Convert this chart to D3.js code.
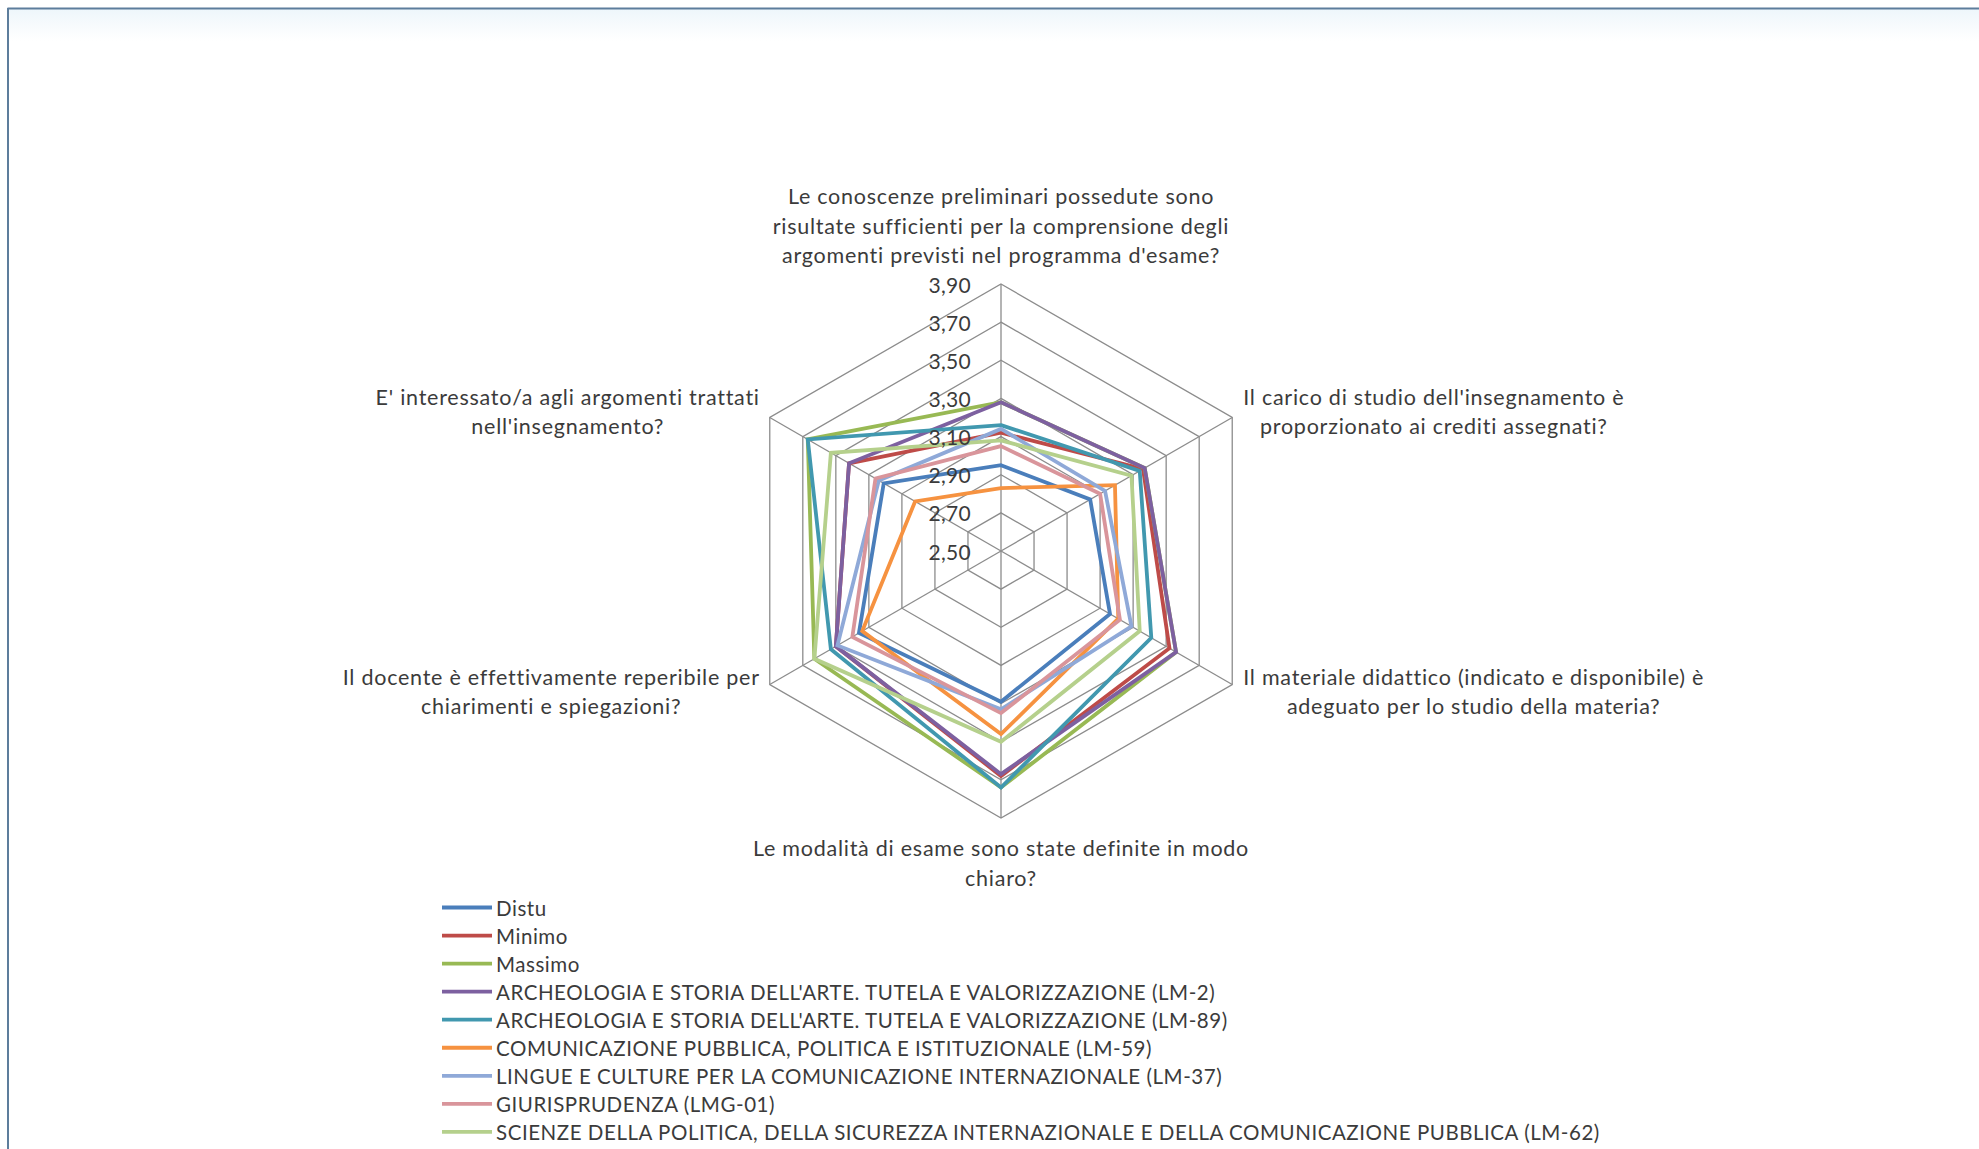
<!DOCTYPE html>
<html>
<head>
<meta charset="utf-8">
<script src="https://cdn.jsdelivr.net/npm/d3@7/dist/d3.min.js"></script>
<style>
  html, body { margin: 0; padding: 0; background: #ffffff; }
  svg { display: block; }
  text { font-family: Lato, "Open Sans", "Noto Sans", sans-serif; fill: #3b3b3b; }
</style>
</head>
<body>
<svg id="chart" width="1979" height="1149"></svg>
<script>
// ---------- DATA ----------
const categories = [
  ["Le conoscenze preliminari possedute sono", "risultate sufficienti per la comprensione degli", "argomenti previsti nel programma d'esame?"],
  ["Il carico di studio dell'insegnamento è", "proporzionato ai crediti assegnati?"],
  ["Il materiale didattico (indicato e disponibile) è", "adeguato per lo studio della materia?"],
  ["Le modalità di esame sono state definite in modo", "chiaro?"],
  ["Il docente è effettivamente reperibile per", "chiarimenti e spiegazioni?"],
  ["E' interessato/a agli argomenti trattati", "nell'insegnamento?"]
];
const seriesNames = [
  "Distu",
  "Minimo",
  "Massimo",
  "ARCHEOLOGIA E STORIA DELL'ARTE. TUTELA E VALORIZZAZIONE (LM-2)",
  "ARCHEOLOGIA E STORIA DELL'ARTE. TUTELA E VALORIZZAZIONE (LM-89)",
  "COMUNICAZIONE PUBBLICA, POLITICA E ISTITUZIONALE (LM-59)",
  "LINGUE E CULTURE PER LA COMUNICAZIONE INTERNAZIONALE (LM-37)",
  "GIURISPRUDENZA (LMG-01)",
  "SCIENZE DELLA POLITICA, DELLA SICUREZZA INTERNAZIONALE E DELLA COMUNICAZIONE PUBBLICA  (LM-62)"
];
const distu   = [2.95, 3.04, 3.16, 3.29, 3.36, 3.21];
const minimo  = [3.12, 3.36, 3.52, 3.68, 3.50, 3.42];
const massimo = [3.28, 3.37, 3.56, 3.74, 3.63, 3.67];
const lm2     = [3.28, 3.37, 3.56, 3.67, 3.50, 3.42];
const lm89    = [3.16, 3.34, 3.41, 3.74, 3.53, 3.67];
const lm59    = [2.83, 3.19, 3.21, 3.46, 3.34, 3.02];
const lm37    = [3.14, 3.13, 3.29, 3.33, 3.49, 3.24];
const lmg01   = [3.05, 3.10, 3.22, 3.35, 3.40, 3.26];
const lm62    = [3.08, 3.29, 3.34, 3.50, 3.63, 3.53];
const tickValues = [2.5, 2.7, 2.9, 3.1, 3.3, 3.5, 3.7, 3.9];

// ---------- LAYOUT / STYLE ----------
const seriesValues = [distu, minimo, massimo, lm2, lm89, lm59, lm37, lmg01, lm62];
const colors = ["#4a7ebb", "#be4b48", "#98b954", "#7d60a0", "#4198af", "#f69240", "#8fa9d8", "#d9959b", "#b5d08c"];

const svg = d3.select("#chart");
const W = 1979, H = 1149;
const cx = 1001, cy = 551, R = 267;

// frame
const grad = svg.append("defs").append("linearGradient").attr("id", "topband")
  .attr("x1", 0).attr("x2", 0).attr("y1", 0).attr("y2", 1);
grad.append("stop").attr("offset", 0).attr("stop-color", "#eef6fb");
grad.append("stop").attr("offset", 1).attr("stop-color", "#ffffff");
svg.append("rect").attr("x", 8).attr("y", 9).attr("width", W).attr("height", 32)
   .attr("fill", "url(#topband)");
svg.append("line").attr("x1", 7.5).attr("x2", W).attr("y1", 8.5).attr("y2", 8.5)
   .attr("stroke", "#5d7d9c").attr("stroke-width", 2);
svg.append("line").attr("x1", 8).attr("x2", 8).attr("y1", 8).attr("y2", H)
   .attr("stroke", "#5d7d9c").attr("stroke-width", 2);

const r = d3.scaleLinear().domain([tickValues[0], tickValues[tickValues.length - 1]]).range([0, R]);
const n = categories.length;
const angle = d3.scaleLinear().domain([0, n]).range([0, 2 * Math.PI]);
const pt = (i, v) => {
  const a = angle(i);
  return [cx + r(v) * Math.sin(a), cy - r(v) * Math.cos(a)];
};

const g = svg.append("g").attr("transform", `translate(${cx},${cy})`);

// grid rings
const ringLine = d3.lineRadial().curve(d3.curveLinearClosed)
  .angle((d, i) => angle(i)).radius(d => r(d));
tickValues.slice(1).forEach(t => {
  g.append("path").attr("d", ringLine(d3.range(n).map(() => t)))
    .attr("fill", "none").attr("stroke", "#8c8c8c").attr("stroke-width", 1.3);
});
// spokes
d3.range(n).forEach(i => {
  const [x, y] = pt(i, tickValues[tickValues.length - 1]);
  g.append("line").attr("x1", 0).attr("y1", 0).attr("x2", x - cx).attr("y2", y - cy)
    .attr("stroke", "#8c8c8c").attr("stroke-width", 1.3);
});

// series
const line = d3.lineRadial().curve(d3.curveLinearClosed)
  .angle((d, i) => angle(i)).radius(d => r(d));
seriesValues.forEach((vals, k) => {
  g.append("path").attr("d", line(vals))
    .attr("fill", "none").attr("stroke", colors[k]).attr("stroke-width", 3.8)
    .attr("stroke-linejoin", "miter");
});

// tick labels
const itFmt = d3.formatLocale({decimal: ",", thousands: ".", grouping: [3], currency: ["€", ""]}).format(".2f");
tickValues.forEach(t => {
  svg.append("text").attr("x", cx - 30).attr("y", cy - r(t))
    .attr("text-anchor", "end").attr("dominant-baseline", "central")
    .attr("font-size", 21).attr("letter-spacing", 0.3).text(itFmt(t));
});

// category labels
const lh = 29.5;
categories.forEach((lines, i) => {
  const [vx, vy] = pt(i, tickValues[tickValues.length - 1]);
  const grp = svg.append("g");
  const texts = lines.map((l, j) => grp.append("text").attr("font-size", 21.5).attr("letter-spacing", 0.75)
    .attr("text-anchor", "middle").attr("dominant-baseline", "central").attr("y", j * lh).text(l));
  const wmax = d3.max(texts, t => t.node().getComputedTextLength());
  const hBlock = (lines.length - 1) * lh;
  let tx, ty;
  if (i === 0) { tx = vx; ty = vy - 29 - hBlock; }
  else if (i === 3) { tx = vx; ty = vy + 30; }
  else if (i === 1) { tx = vx + 11 + wmax / 2; ty = vy - 21; }
  else if (i === 2) { tx = vx + 11 + wmax / 2; ty = vy - 8; }
  else if (i === 4) { tx = vx - 10 - wmax / 2; ty = vy - 8; }
  else { tx = vx - 10 - wmax / 2; ty = vy - 21; }
  grp.attr("transform", `translate(${tx},${ty})`);
});

// legend
const lgX = 442, lgY = 907.5, lgStep = 28.05;
seriesNames.forEach((name, k) => {
  const y = lgY + k * lgStep;
  svg.append("line").attr("x1", lgX).attr("x2", lgX + 50).attr("y1", y).attr("y2", y)
    .attr("stroke", colors[k]).attr("stroke-width", 3.8);
  svg.append("text").attr("x", lgX + 54).attr("y", y).attr("dominant-baseline", "central")
    .attr("font-size", 20.5).attr("letter-spacing", 0.55).text(name);
});
</script>
</body>
</html>
